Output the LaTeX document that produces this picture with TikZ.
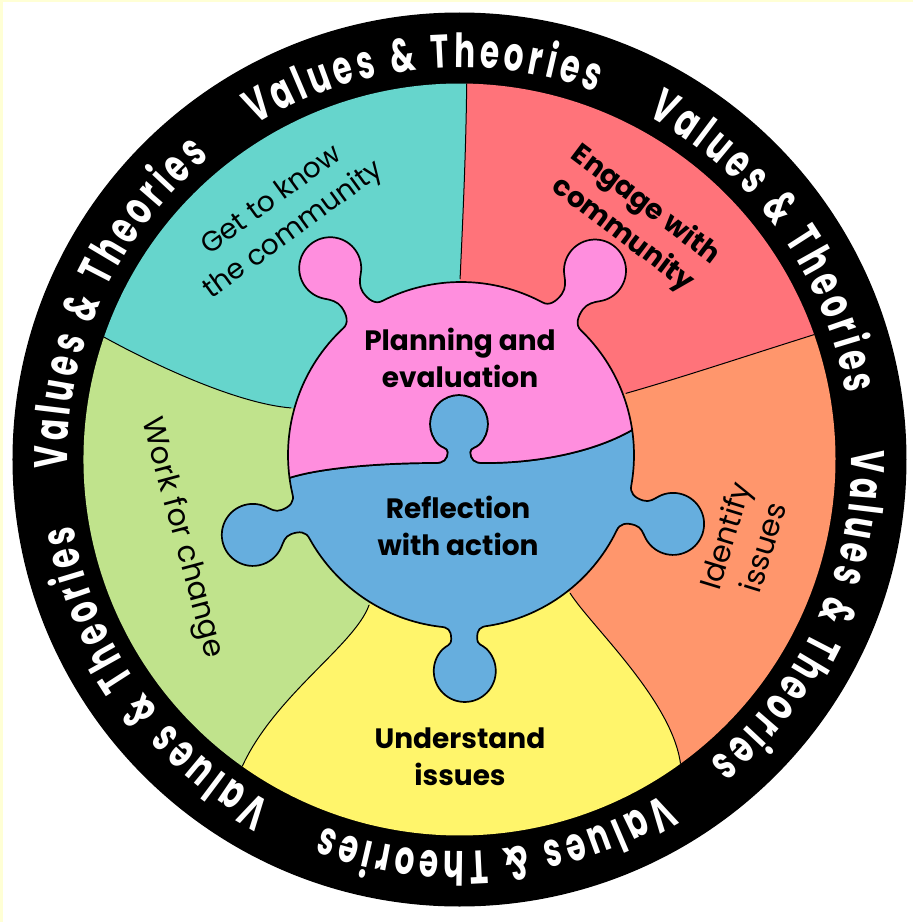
\documentclass[tikz,border=0pt]{standalone}
\usepackage{fontspec}
\setmainfont{Poppins}
\usetikzlibrary{calc}
\definecolor{cteal}{RGB}{102,213,204}
\definecolor{cred}{RGB}{255,115,122}
\definecolor{corange}{RGB}{255,150,108}
\definecolor{cyellow}{RGB}{255,245,107}
\definecolor{cgreen}{RGB}{192,227,140}
\definecolor{cpink}{RGB}{255,142,222}
\definecolor{cblue}{RGB}{102,174,222}
\definecolor{cbg}{RGB}{255,255,213}
\newlength\rlen
\newlength\rtot
\newlength\rpos
\newlength\rtrack
\newcommand\rfont{\fontsize{47}{50}\selectfont\bfseries}
\def\rsx{0.66}
\def\rrad{392}
\newcommand\rchars{V,a,l,u,e,s,\ ,\&,\ ,T,h,e,o,r,i,e,s}
\AtBeginDocument{%
  \global\rtot=0pt
  \foreach \ch [count=\i] in \rchars {%
    \settowidth\rlen{\rfont\ch}%
    \global\rlen=\rsx\rlen
    \expandafter\xdef\csname rw\i\endcsname{\the\rlen}%
    \global\advance\rtot by \rlen
  }%
  \pgfmathsetlength\rtrack{(354-\rtot)/16}%
  \global\rtrack=\rtrack
}
\newcommand\ringtext[1]{%
  \global\rpos=0pt
  \foreach \ch [count=\i] in \rchars {%
    \edef\cw{\csname rw\i\endcsname}%
    \pgfmathsetmacro\ang{#1+(177-\rpos-\cw/2)/\rrad*180/pi}%
    \node[rotate=\ang-90, xscale=\rsx, anchor=base, inner sep=0pt, text=white, font=\rfont] at (\ang:\rrad) {\ch};
    \global\advance\rpos by \cw
    \global\advance\rpos by \rtrack
  }%
}
\newcommand\mkknob[3]{%
  \pgfmathsetmacro\kN{(173+#3-21.9)/2}%
  \pgfmathsetmacro\kNa{\kN-9}%
  \pgfmathsetmacro\kNb{\kN+7}%
  \coordinate (#1K) at ($(C)+(#2:#3)$);
  \coordinate (#1A) at ($(C)+(#2-8:173)$);
  \coordinate (#1B) at ($(C)+(#2+8:173)$);
  \coordinate (#1J) at ($(#1K)+(#2-135:31)$);
  \coordinate (#1L) at ($(#1K)+(#2+135:31)$);
  \coordinate (#1N) at ($(C)+(#2:\kN)+(#2-90:13)$);
  \coordinate (#1M) at ($(C)+(#2:\kN)+(#2+90:13)$);
  \coordinate (#1a1) at ($(C)+(#2:172)+(#2-90:16)$);
  \coordinate (#1a2) at ($(C)+(#2:\kNa)+(#2-90:13)$);
  \coordinate (#1a3) at ($(C)+(#2:\kNb)+(#2-90:13)$);
  \coordinate (#1a4) at ($(#1J)+(#2+135:6)$);
  \coordinate (#1b4) at ($(#1L)+(#2-135:6)$);
  \coordinate (#1b3) at ($(C)+(#2:\kNb)+(#2+90:13)$);
  \coordinate (#1b2) at ($(C)+(#2:\kNa)+(#2+90:13)$);
  \coordinate (#1b1) at ($(C)+(#2:172)+(#2+90:16)$);
}
\begin{document}
\begin{tikzpicture}[x=1pt,y=1pt,
  divline/.style={draw=black, line width=1pt},
  piece/.style={draw=black, line width=1.7pt, line join=round},
  lab/.style={font=\fontsize{28}{37}\selectfont, align=center, text=black, inner sep=0pt},
  labl/.style={font=\fontsize{30}{40}\selectfont, align=center, text=black, inner sep=0pt},
  labb/.style={font=\fontsize{28}{37}\selectfont\bfseries, align=center, text=black, inner sep=0pt},
  knob/.style 2 args={insert path={.. controls (#1a1) and (#1a2) .. (#1N) .. controls (#1a3) and (#1a4) .. (#1J) arc[start angle=#2-135, end angle=#2+135, radius=31] .. controls (#1b4) and (#1b3) .. (#1M) .. controls (#1b2) and (#1b1) .. (#1B)}}
]
\useasboundingbox (-459.5,-462.5) rectangle (453.5,459.5);
\fill[cbg] (-459.5,-462.5) rectangle (453.5,459.5);
\fill[white] (-456.5,-462.5) rectangle (453.5,457.5);
\coordinate (O) at (0,0);
\coordinate (C) at (1.5,4.5);
\fill[black] (O) circle[radius=447];

% sector boundaries
\coordinate (tr-i) at ($(C)+(90.3:176)$);
\coordinate (tr-c1) at (3.5,243.5);
\coordinate (tr-c2) at (6.5,309.5);
\coordinate (tr-o) at (88.9:376);
\coordinate (ro-i) at ($(C)+(20.5:176)$);
\coordinate (ro-c1) at (220.5,81.5);
\coordinate (ro-c2) at (280.5,101.5);
\coordinate (ro-o) at (19.4:376);
\coordinate (oy-i) at ($(C)+(-51.7:176)$);
\coordinate (oy-c1) at (130.5,-165.5);
\coordinate (oy-c2) at (212.5,-240.5);
\coordinate (oy-o) at (-54:376);
\coordinate (yg-i) at ($(C)+(-121.5:176)$);
\coordinate (yg-c1) at (-104.5,-185.5);
\coordinate (yg-c2) at (-184.5,-235.5);
\coordinate (yg-o) at (-125.3:376);
\coordinate (gt-i) at ($(C)+(164.5:176)$);
\coordinate (gt-c1) at (-219.5,55.5);
\coordinate (gt-c2) at (-299.5,91.5);
\coordinate (gt-o) at (161:376);

\fill[cteal] (C) -- (tr-i) .. controls (tr-c1) and (tr-c2) .. (tr-o) arc[start angle=88.9, end angle=161, radius=376] .. controls (gt-c2) and (gt-c1) .. (gt-i) -- cycle;
\fill[cred] (C) -- (ro-i) .. controls (ro-c1) and (ro-c2) .. (ro-o) arc[start angle=19.4, end angle=88.9, radius=376] .. controls (tr-c2) and (tr-c1) .. (tr-i) -- cycle;
\fill[corange] (C) -- (oy-i) .. controls (oy-c1) and (oy-c2) .. (oy-o) arc[start angle=-54, end angle=19.4, radius=376] .. controls (ro-c2) and (ro-c1) .. (ro-i) -- cycle;
\fill[cyellow] (C) -- (yg-i) .. controls (yg-c1) and (yg-c2) .. (yg-o) arc[start angle=-125.3, end angle=-54, radius=376] .. controls (oy-c2) and (oy-c1) .. (oy-i) -- cycle;
\fill[cgreen] (C) -- (gt-i) .. controls (gt-c1) and (gt-c2) .. (gt-o) arc[start angle=161, end angle=234.7, radius=376] .. controls (yg-c2) and (yg-c1) .. (yg-i) -- cycle;

\draw[divline] (tr-i) .. controls (tr-c1) and (tr-c2) .. (tr-o);
\draw[divline] (ro-i) .. controls (ro-c1) and (ro-c2) .. (ro-o);
\draw[divline] (oy-i) .. controls (oy-c1) and (oy-c2) .. (oy-o);
\draw[divline] (yg-i) .. controls (yg-c1) and (yg-c2) .. (yg-o);
\draw[divline] (gt-i) .. controls (gt-c1) and (gt-c2) .. (gt-o);

% puzzle
\mkknob{TR}{54}{228}
\mkknob{TL}{125}{228}
\mkknob{BL}{201}{223}
\mkknob{BB}{271}{216}
\mkknob{BR}{342}{223}
\coordinate (PR) at ($(C)+(8.3:173)$);
\coordinate (PL) at ($(C)+(187.6:173)$);
\coordinate (Kc) at (-0.5,35.5);
\coordinate (J1u) at ($(Kc)+(225:29)$);
\coordinate (J2u) at ($(Kc)+(-45:29)$);
\coordinate (N1u) at (-12,7.5);
\coordinate (N2u) at (11,7.5);
\coordinate (B1) at (-24,-3.5);
\coordinate (B2) at (23,-3.5);

\path[piece, fill=cblue] (PL) arc[start angle=187.6, end angle=193, radius=173] [knob={BL}{201}] arc[start angle=209, end angle=263, radius=173] [knob={BB}{271}] arc[start angle=279, end angle=334, radius=173] [knob={BR}{342}] arc[start angle=350, end angle=368.3, radius=173] .. controls (130,5) and (70,-4) .. (B2) .. controls (15,-3.5) and (11,0) .. (N2u) .. controls (11,11.5) and (16.5,11.5) .. (J2u) arc[start angle=-45, end angle=225, radius=29] .. controls (-17.5,11.5) and (-12,11.5) .. (N1u) .. controls (-12,0) and (-16,-3.5) .. (B1) .. controls (-79.5,-3.5) and (-139.5,-8.5) .. (PL) -- cycle;

\path[piece, fill=cpink] (PR) arc[start angle=8.3, end angle=46, radius=173] [knob={TR}{54}] arc[start angle=62, end angle=117, radius=173] [knob={TL}{125}] arc[start angle=133, end angle=187.6, radius=173] .. controls (-139.5,-8.5) and (-79.5,-3.5) .. (B1) .. controls (-16,-3.5) and (-12,0) .. (N1u) .. controls (-12,11.5) and (-17.5,11.5) .. (J1u) arc[start angle=225, end angle=-45, radius=29] .. controls (16.5,11.5) and (11,11.5) .. (N2u) .. controls (11,0) and (15,-3.5) .. (B2) .. controls (70,-4) and (130,5) .. (PR) -- cycle;

% labels
\node[lab, rotate=36] (getk) at (-176.5,243.5) {Get to know\\the community};
\node[labb, rotate=-37] (eng) at (174.5,239.5) {Engage with\\community};
\node[labl, rotate=-75] (work) at (-278,-78.5) {Work for change};
\node[labl, rotate=73] (ident) at (284,-82) {Identify\\issues};
\node[labb] (und) at (0.5,-297.5) {Understand\\issues};
\node[labb] (plan) at (0.5,101.5) {Planning and\\evaluation};
\node[labb] (refl) at (-1.5,-66) {Reflection\\with action};

% ring text
\ringtext{95.5}
\ringtext{35.5}
\ringtext{-24.5}
\ringtext{-84.5}
\ringtext{-144.5}
\ringtext{-204.5}
\end{tikzpicture}
\end{document}
